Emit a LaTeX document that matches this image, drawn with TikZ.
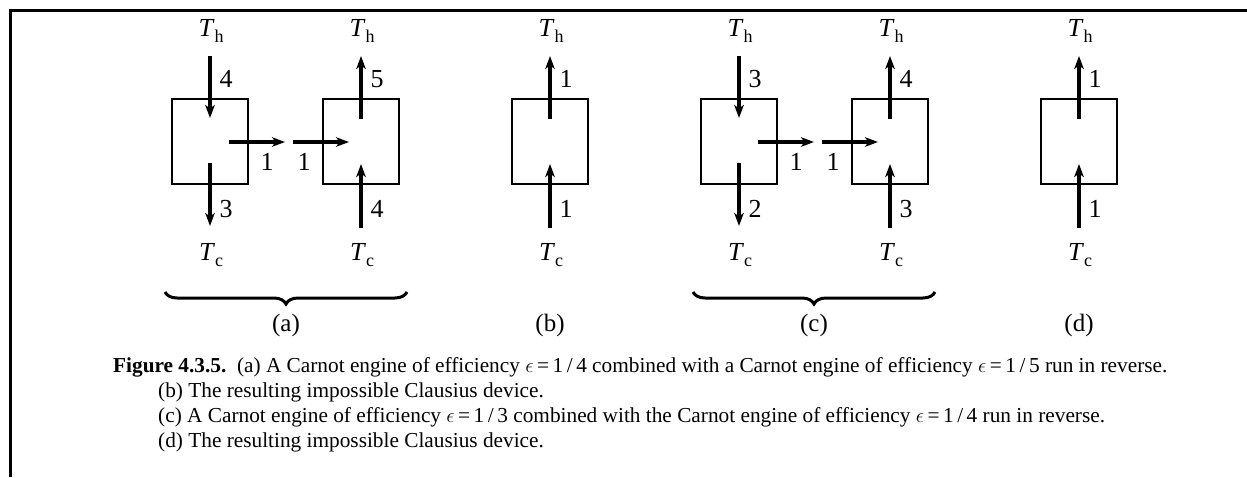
\documentclass[tikz,border=0pt]{standalone}
\usepackage{fontspec}
\setmainfont{Liberation Serif}
\usetikzlibrary{arrows.meta,calc,decorations.pathreplacing}
\newcommand{\Th}{\textit{T}\raisebox{-6pt}{\fontsize{18}{18}\selectfont h}}
\newcommand{\Tc}{\textit{T}\raisebox{-6pt}{\fontsize{18}{18}\selectfont c}}
\newcommand{\eps}{\(\epsilon\)\,=\,1\,/\,}
\begin{document}
\begin{tikzpicture}[x=1pt,y=-1pt,
  box/.style={draw, line width=2.7pt, minimum width=76pt, minimum height=85pt, inner sep=0pt},
  flow/.style={line width=3.2pt, -{Stealth[length=13pt,width=9.5pt,inset=3.5pt]}},
  temp/.style={font=\fontsize{26}{30}\selectfont, inner sep=0pt, anchor=base},
  num/.style={font=\fontsize{26}{30}\selectfont, inner sep=0pt, anchor=base},
  brc/.style={decorate, decoration={brace, mirror, amplitude=12pt}, line width=3pt},
  sub/.style={font=\fontsize{25}{29}\selectfont, inner sep=0pt, anchor=base},
  captext/.style={font=\fontsize{21.3}{25}\selectfont, anchor=base west, inner sep=0pt}]
\useasboundingbox (0,0) rectangle (1247,477);
\draw[line width=3pt] (10,477) -- (10,10) -- (1247,10);

% ---------- (a) ----------
\node[box] (A1) at (210,141.5) {};
\node[box] (A2) at (361,141.5) {};
\node[temp] (A1h) at (211,36) {\Th};
\node[temp] (A1c) at (211,260) {\Tc};
\node[temp] (A2h) at (362,36) {\Th};
\node[temp] (A2c) at (362,260) {\Tc};
\coordinate (A1t0) at (210,56);   \coordinate (A1t1) at (210,118);
\coordinate (A1b0) at (210,163);  \coordinate (A1b1) at (210,226);
\coordinate (A1r0) at (229,142);  \coordinate (A1r1) at (285,142);
\coordinate (A2l0) at (293,142);  \coordinate (A2l1) at (349,142);
\coordinate (A2t0) at (361,119);  \coordinate (A2t1) at (361,56);
\coordinate (A2b0) at (361,228);  \coordinate (A2b1) at (361,164);
\draw[flow] (A1t0) -- (A1t1);
\draw[flow] (A1b0) -- (A1b1);
\draw[flow] (A1r0) -- (A1r1);
\draw[flow] (A2l0) -- (A2l1);
\draw[flow] (A2t0) -- (A2t1);
\draw[flow] (A2b0) -- (A2b1);
\node[num] (nA1t) at (226,87) {4};
\node[num] (nA1b) at (226,217) {3};
\node[num] (nA1r) at (267,170) {1};
\node[num] (nA2l) at (304,170) {1};
\node[num] (nA2t) at (377,87) {5};
\node[num] (nA2b) at (377,217) {4};
\coordinate (Ba0) at (165,292); \coordinate (Ba1) at (407,292);
\draw[brc] (Ba0) -- (Ba1);
\node[sub] (la) at (286,331) {(a)};

% ---------- (b) ----------
\node[box] (B) at (550,141.5) {};
\node[temp] (Bh) at (551,36) {\Th};
\node[temp] (Bc) at (551,260) {\Tc};
\coordinate (Bt0) at (550,119);  \coordinate (Bt1) at (550,56);
\coordinate (Bb0) at (550,228);  \coordinate (Bb1) at (550,164);
\draw[flow] (Bt0) -- (Bt1);
\draw[flow] (Bb0) -- (Bb1);
\node[num] (nBt) at (566,87) {1};
\node[num] (nBb) at (566,217) {1};
\node[sub] (lb) at (550,331) {(b)};

% ---------- (c) ----------
\node[box] (C1) at (739,141.5) {};
\node[box] (C2) at (890,141.5) {};
\node[temp] (C1h) at (740,36) {\Th};
\node[temp] (C1c) at (740,260) {\Tc};
\node[temp] (C2h) at (891,36) {\Th};
\node[temp] (C2c) at (891,260) {\Tc};
\coordinate (C1t0) at (739,56);   \coordinate (C1t1) at (739,118);
\coordinate (C1b0) at (739,163);  \coordinate (C1b1) at (739,226);
\coordinate (C1r0) at (758,142);  \coordinate (C1r1) at (814,142);
\coordinate (C2l0) at (822,142);  \coordinate (C2l1) at (878,142);
\coordinate (C2t0) at (890,119);  \coordinate (C2t1) at (890,56);
\coordinate (C2b0) at (890,228);  \coordinate (C2b1) at (890,164);
\draw[flow] (C1t0) -- (C1t1);
\draw[flow] (C1b0) -- (C1b1);
\draw[flow] (C1r0) -- (C1r1);
\draw[flow] (C2l0) -- (C2l1);
\draw[flow] (C2t0) -- (C2t1);
\draw[flow] (C2b0) -- (C2b1);
\node[num] (nC1t) at (755,87) {3};
\node[num] (nC1b) at (755,217) {2};
\node[num] (nC1r) at (796,170) {1};
\node[num] (nC2l) at (833,170) {1};
\node[num] (nC2t) at (906,87) {4};
\node[num] (nC2b) at (906,217) {3};
\coordinate (Bc0) at (693,292); \coordinate (Bc1) at (935,292);
\draw[brc] (Bc0) -- (Bc1);
\node[sub] (lc) at (814,331) {(c)};

% ---------- (d) ----------
\node[box] (D) at (1079,141.5) {};
\node[temp] (Dh) at (1080,36) {\Th};
\node[temp] (Dc) at (1080,260) {\Tc};
\coordinate (Dt0) at (1079,119);  \coordinate (Dt1) at (1079,56);
\coordinate (Db0) at (1079,228);  \coordinate (Db1) at (1079,164);
\draw[flow] (Dt0) -- (Dt1);
\draw[flow] (Db0) -- (Db1);
\node[num] (nDt) at (1095,87) {1};
\node[num] (nDb) at (1095,217) {1};
\node[sub] (ld) at (1079,331) {(d)};

% ---------- caption ----------
\node[captext] (cap1) at (113,372) {\textbf{Figure 4.3.5.}\ \ (a) A Carnot engine of efficiency \eps4 combined with a Carnot engine of efficiency \eps5 run in reverse.};
\node[captext] (cap2) at (158,397) {(b) The resulting impossible Clausius device.};
\node[captext] (cap3) at (158,422) {(c) A Carnot engine of efficiency \eps3 combined with the Carnot engine of efficiency \eps4 run in reverse.};
\node[captext] (cap4) at (158,447) {(d) The resulting impossible Clausius device.};
\end{tikzpicture}
\end{document}
